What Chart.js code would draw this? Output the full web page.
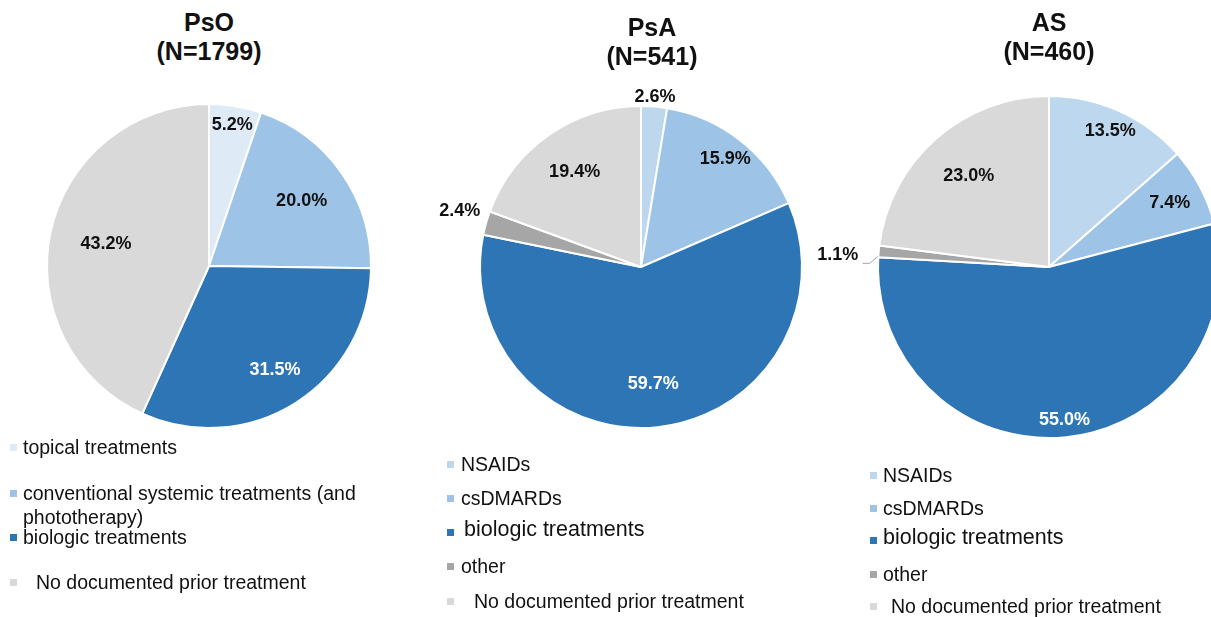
<!DOCTYPE html>
<html>
<head>
<meta charset="utf-8">
<script src="https://cdn.jsdelivr.net/npm/chart.js@4.4.0/dist/chart.umd.min.js"></script>
<style>
  body { margin: 0; width: 1211px; height: 617px; overflow: hidden; background: #fff; position: relative;
         font-family: Arial, "Liberation Sans", sans-serif; }
  canvas { position: absolute; }
  .title { position: absolute; width: 240px; text-align: center; font-weight: bold; font-size: 25px;
           line-height: 29px; color: #111; }
  .leg { position: absolute; font-size: 19.5px; line-height: 24px; color: #111; white-space: nowrap; }
  .sq { position: absolute; width: 7px; height: 7px; }
</style>
</head>
<body>
<canvas id="psoChart" width="440" height="400" style="left:-11px;top:66px"></canvas>
<canvas id="psaChart" width="440" height="400" style="left:421px;top:67px"></canvas>
<canvas id="asChart" width="480" height="400" style="left:809px;top:67px"></canvas>

<script>
// Data
const psoLabels = ['topical treatments', 'conventional systemic treatments (and phototherapy)', 'biologic treatments', 'No documented prior treatment'];
const psoValues = [5.2, 20.0, 31.5, 43.2];

const psaLabels = ['NSAIDs', 'csDMARDs', 'biologic treatments', 'other', 'No documented prior treatment'];
const psaValues = [2.6, 15.9, 59.7, 2.4, 19.4];

const asLabels = ['NSAIDs', 'csDMARDs', 'biologic treatments', 'other', 'No documented prior treatment'];
const asValues = [13.5, 7.4, 55.0, 1.1, 23.0];

// Colours
const psoColors = ['#deebf7', '#9dc3e6', '#2e75b6', '#d9d9d9'];
const spaColors = ['#bdd7ee', '#9dc3e6', '#2e75b6', '#a6a6a6', '#d9d9d9'];

// draws the percentage labels (and a leader line for tiny slices)
const pieLabels = {
  id: 'pieLabels',
  afterDatasetsDraw(chart, args, opts) {
    const ctx = chart.ctx;
    const meta = chart.getDatasetMeta(0);
    const values = chart.data.datasets[0].data;
    ctx.save();
    ctx.font = 'bold 18px Arial, "Liberation Sans", sans-serif';
    ctx.textAlign = 'center';
    ctx.textBaseline = 'middle';
    meta.data.forEach((arc, i) => {
      const p = arc.getProps(['x', 'y', 'startAngle', 'endAngle', 'outerRadius']);
      const mid = (p.startAngle + p.endAngle) / 2;
      const r = p.outerRadius * opts.radii[i];
      const x = p.x + Math.cos(mid) * r;
      const y = p.y + Math.sin(mid) * r + (opts.dy[i] || 0);
      if (opts.leader === i) {
        // elbow line from the slice to its label
        const x0 = p.x + Math.cos(mid) * (p.outerRadius + 1);
        const y0 = p.y + Math.sin(mid) * (p.outerRadius + 1) + 5;
        ctx.strokeStyle = '#a6a6a6';
        ctx.lineWidth = 1;
        ctx.beginPath();
        ctx.moveTo(x0, y0);
        ctx.lineTo(x0 - 8, y0 + 7);
        ctx.lineTo(x0 - 15, y0 + 7);
        ctx.stroke();
      }
      ctx.fillStyle = opts.textColors[i];
      ctx.fillText(values[i].toFixed(1) + '%', x, y);
    });
    ctx.restore();
  }
};

function makePie(id, labels, values, colors, radius, labelOpts) {
  return new Chart(document.getElementById(id), {
    type: 'pie',
    data: {
      labels: labels,
      datasets: [{
        data: values,
        backgroundColor: colors,
        borderColor: '#ffffff',
        borderWidth: 2
      }]
    },
    options: {
      responsive: false,
      animation: false,
      radius: radius,
      layout: { padding: 0 },
      plugins: {
        legend: { display: false },
        tooltip: { enabled: false },
        pieLabels: labelOpts
      }
    },
    plugins: [pieLabels]
  });
}

makePie('psoChart', psoLabels, psoValues, psoColors, 162, {
  radii: [0.88, 0.70, 0.76, 0.65],
  dy: [0, 0, 0, 0],
  textColors: ['#111', '#111', '#fff', '#111']
});
makePie('psaChart', psaLabels, psaValues, spaColors, 161, {
  radii: [1.06, 0.85, 0.73, 1.17, 0.72],
  dy: [0, 0, 0, -5, 0],
  textColors: ['#111', '#111', '#fff', '#111', '#111']
});
makePie('asChart', asLabels, asValues, spaColors, 171, {
  radii: [0.87, 0.80, 0.90, 1.24, 0.71],
  dy: [0, 0, 0, 7, 0],
  textColors: ['#111', '#111', '#fff', '#111', '#111'],
  leader: 3
});

// Titles
function addTitle(text, cx, top) {
  const d = document.createElement('div');
  d.className = 'title';
  d.style.left = (cx - 120) + 'px';
  d.style.top = top + 'px';
  d.innerHTML = text;
  document.body.appendChild(d);
}
addTitle('PsO<br>(N=1799)', 209, 8);
addTitle('PsA<br>(N=541)', 652, 13);
addTitle('AS<br>(N=460)', 1049, 8);

// Legends: each item is centred on its y value
function addLegend(labels, colors, sqX, textX, ys, opt) {
  labels.forEach((label, i) => {
    const size = (opt.sizes && opt.sizes[i]) || 19.5;
    const sq = document.createElement('div');
    sq.className = 'sq';
    sq.style.background = colors[i];
    sq.style.left = sqX + 'px';
    sq.style.top = (ys[i] - 3.5 + ((opt.sqDy && opt.sqDy[i]) || 0)) + 'px';
    document.body.appendChild(sq);

    const t = document.createElement('div');
    t.className = 'leg';
    t.style.left = (textX + ((opt.indent && opt.indent[i]) || 0)) + 'px';
    t.style.top = (ys[i] - 12) + 'px';
    t.style.fontSize = size + 'px';
    if (opt.wrap && opt.wrap[i]) {
      t.style.whiteSpace = 'normal';
      t.style.width = opt.wrap[i] + 'px';
    }
    t.textContent = label;
    document.body.appendChild(t);
  });
}
addLegend(psoLabels, psoColors, 10, 23, [447, 493, 537, 582], {
  indent: [0, 0, 0, 13],
  wrap: [0, 345, 0, 0]
});
addLegend(psaLabels, spaColors, 447, 461, [464, 498, 529, 566, 601], {
  indent: [0, 0, 3, 0, 13],
  sizes: [0, 0, 21.5, 0, 0],
  sqDy: [0, 0, 3, 0, 0]
});
addLegend(asLabels, spaColors, 870, 883, [475, 508, 537, 574, 606], {
  indent: [0, 0, 0, 0, 8],
  sizes: [0, 0, 21.5, 0, 0],
  sqDy: [0, 0, 3, 0, 0]
});
</script>
</body>
</html>
